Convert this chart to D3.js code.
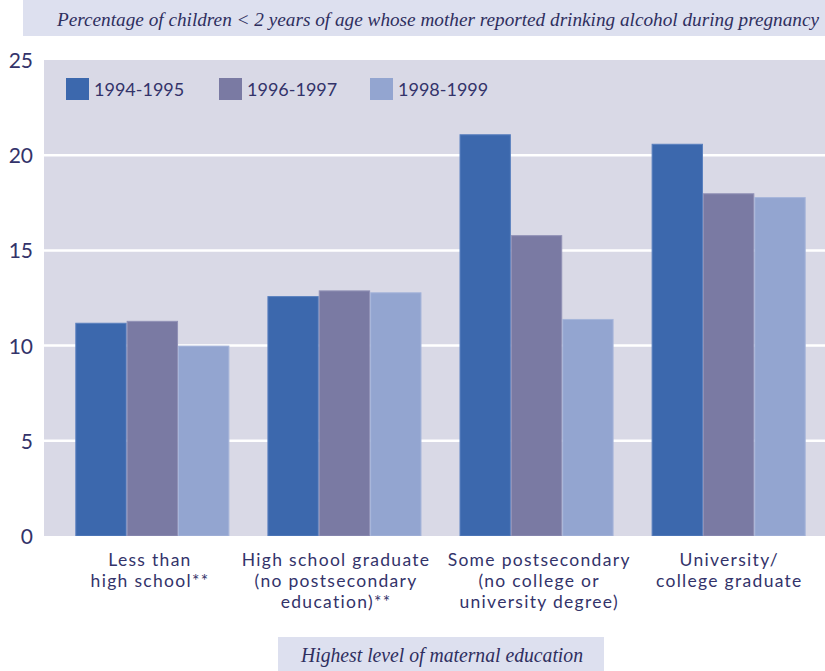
<!DOCTYPE html>
<html>
<head>
<meta charset="utf-8">
<script src="https://cdn.jsdelivr.net/npm/d3@7"></script>
<style>
  html, body { margin: 0; padding: 0; background: #ffffff; }
  svg { display: block; }
</style>
</head>
<body>
<svg id="chart" width="825" height="671"></svg>
<script>
// ---- data ----
const categories = [
  ["Less than", "high school**"],
  ["High school graduate", "(no postsecondary", "education)**"],
  ["Some postsecondary", "(no college or", "university degree)"],
  ["University/", "college graduate"]
];
const seriesNames = ["1994-1995", "1996-1997", "1998-1999"];
const values1994 = [11.2, 12.6, 21.1, 20.6];
const values1996 = [11.3, 12.9, 15.8, 18.0];
const values1998 = [10.0, 12.8, 11.4, 17.8];
const yTicks = [0, 5, 10, 15, 20, 25];
const titleText = "Percentage of  children < 2 years of  age whose mother reported drinking alcohol during pregnancy";
const xTitleText = "Highest level of  maternal education";

const colors = ["#3c68ad", "#7a7aa3", "#93a5d0"];
const strokes = ["#5a80bf", "#9191b6", "#a6b5da"];
const labelShift = [-3, -9, 2, 0]; // layout nudges for category labels

const svg = d3.select("#chart");

// title band
svg.append("rect").attr("x", 23).attr("y", 0).attr("width", 802).attr("height", 36).attr("fill", "#dde0ef");
svg.append("text")
  .attr("x", 57).attr("y", 26)
  .attr("font-family", "Liberation Serif, serif")
  .attr("font-style", "italic")
  .attr("font-size", 19)
  .attr("fill", "#2f2f5f")
  .attr("textLength", 762)
  .attr("lengthAdjust", "spacingAndGlyphs")
  .text(titleText);

const plotLeft = 44, plotRight = 825, plotTop = 60, plotBottom = 536;

const y = d3.scaleLinear().domain([0, 25]).range([plotBottom, plotTop]);
const x0 = d3.scaleBand().domain(d3.range(categories.length)).range([44, 837])
  .paddingInner(0.198).paddingOuter(0.163);
const x1 = d3.scaleBand().domain(d3.range(seriesNames.length)).range([0, x0.bandwidth()]);

// plot background
svg.append("rect").attr("x", plotLeft).attr("y", plotTop)
  .attr("width", plotRight - plotLeft).attr("height", plotBottom - plotTop)
  .attr("fill", "#d9d9e6");

// gridlines
svg.append("g").selectAll("line").data(yTicks.filter(t => t > 0 && t < 25)).join("line")
  .attr("x1", plotLeft).attr("x2", plotRight)
  .attr("y1", d => y(d)).attr("y2", d => y(d))
  .attr("stroke", "#ffffff").attr("stroke-width", 2.5);

// y axis labels
const yAxis = d3.axisLeft(y).tickValues(yTicks).tickSize(0).tickPadding(0);
const yg = svg.append("g").attr("transform", `translate(33,0)`).call(yAxis);
yg.select(".domain").remove();
yg.selectAll("text")
  .attr("font-family", "Lato, 'Noto Sans', sans-serif")
  .attr("font-size", 21)
  .attr("fill", "#33336a")
  .attr("dy", "0.36em");

// bars
const allSeries = [values1994, values1996, values1998];
svg.append("clipPath").attr("id", "plotclip").append("rect")
  .attr("x", plotLeft).attr("y", 0).attr("width", plotRight - plotLeft).attr("height", plotBottom);
const barsG = svg.append("g").attr("clip-path", "url(#plotclip)");
categories.forEach((c, i) => {
  const g = barsG.append("g").attr("transform", `translate(${x0(i)},0)`);
  allSeries.forEach((vals, s) => {
    g.append("rect")
      .attr("x", x1(s) + 0.5)
      .attr("y", y(vals[i]) + 0.5)
      .attr("width", x1.bandwidth() - 1)
      .attr("height", y(0) - y(vals[i]) - 0.5)
      .attr("fill", colors[s])
      .attr("stroke", strokes[s])
      .attr("stroke-width", 1);
  });
});

// legend
const legendX = [66, 219, 370];
seriesNames.forEach((n, s) => {
  svg.append("rect").attr("x", legendX[s]).attr("y", 78).attr("width", 23).attr("height", 22)
    .attr("fill", colors[s]);
  svg.append("text").attr("x", legendX[s] + 28).attr("y", 96)
    .attr("font-family", "Lato, 'Noto Sans', sans-serif")
    .attr("font-size", 18)
    .attr("fill", "#33336a")
    .text(n);
});

// category labels
categories.forEach((lines, i) => {
  const cx = x0(i) + x0.bandwidth() / 2 + labelShift[i];
  lines.forEach((l, k) => {
    svg.append("text")
      .attr("text-anchor", "middle")
      .attr("font-family", "Lato, 'Noto Sans', sans-serif")
      .attr("font-size", 17.5)
      .attr("letter-spacing", 1.3)
      .attr("fill", "#33336a")
      .attr("x", cx + 0.65).attr("y", 566 + k * 21)
      .text(l);
  });
});

// x title box
svg.append("rect").attr("x", 278).attr("y", 637).attr("width", 326).attr("height", 34).attr("fill", "#dde0ef");
svg.append("text").attr("x", 442).attr("y", 662)
  .attr("text-anchor", "middle")
  .attr("font-family", "Liberation Serif, serif")
  .attr("font-style", "italic")
  .attr("font-size", 21)
  .attr("fill", "#2f2f5f")
  .attr("textLength", 282)
  .attr("lengthAdjust", "spacingAndGlyphs")
  .text(xTitleText);
</script>
</body>
</html>
